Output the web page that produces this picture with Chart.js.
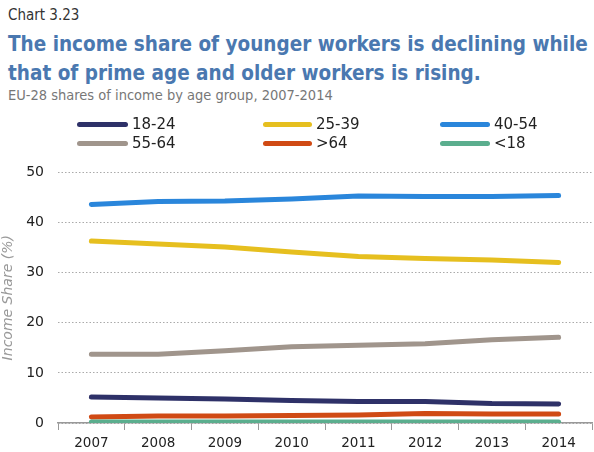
<!DOCTYPE html>
<html><head><meta charset="utf-8">
<script src="https://cdn.jsdelivr.net/npm/chart.js@4"></script>
<style>
html,body{margin:0;padding:0;background:#fff;}
body{width:594px;height:452px;position:relative;overflow:hidden;font-family:"DejaVu Sans Condensed","DejaVu Sans",sans-serif;}
#kicker{position:absolute;left:8px;top:6px;font-size:15px;color:#333;}
#title{position:absolute;left:8px;top:30px;font-size:20.5px;font-weight:bold;color:#4a78b0;line-height:29px;white-space:nowrap;}
#sub{position:absolute;left:8px;top:87px;font-size:14.5px;color:#777;}
#legend{position:absolute;left:0;top:114px;width:594px;height:36px;}
.li{position:absolute;font-family:"DejaVu Sans",sans-serif;font-size:15px;color:#222;height:19px;line-height:19px;}
.li span.sw{position:absolute;top:7px;height:5px;border-radius:3px;}
#wrap{position:absolute;left:0;top:150px;width:594px;height:302px;}
</style></head>
<body>
<div id="kicker">Chart 3.23</div>
<div id="title">The income share of younger workers is declining while<br>that of prime age and older workers is rising.</div>
<div id="sub">EU-28 shares of income by age group, 2007-2014</div>
<div id="wrap"><canvas id="c" width="594" height="302"></canvas></div>
<div id="legend"></div>
<script>
const years = ["2007","2008","2009","2010","2011","2012","2013","2014"];
const seriesNames = ["18-24","25-39","40-54","55-64",">64","<18"];
const s18_24 = [5.2,5.0,4.8,4.5,4.3,4.3,3.9,3.8];
const s25_39 = [36.3,35.7,35.1,34.1,33.2,32.8,32.5,32.0];
const s40_54 = [43.6,44.2,44.3,44.7,45.3,45.2,45.2,45.4];
const s55_64 = [13.7,13.7,14.4,15.2,15.5,15.8,16.6,17.1];
const s64plus = [1.2,1.4,1.4,1.5,1.6,1.9,1.8,1.8];
const sUnder18 = [0.2,0.2,0.2,0.2,0.2,0.2,0.2,0.2];
const yTicks = [0,10,20,30,40,50];

const colors = ["#2e3168","#e6bf1f","#2a86db","#a0958c","#d04a14","#5bae8e"];
const allData = [s18_24,s25_39,s40_54,s55_64,s64plus,sUnder18];

// legend
const legPos = [[77,124,51],[263,124,49],[440,124,50],[77,143,51],[263,143,49],[440,143,50]];
const leg = document.getElementById('legend');
seriesNames.forEach((n,i)=>{
  const d=document.createElement('div');d.className='li';
  d.style.left=legPos[i][0]+'px';d.style.top=(legPos[i][1]-114-9)+'px';
  d.style.paddingLeft=(legPos[i][2]+4)+'px';
  d.innerHTML='<span class="sw" style="left:0;width:'+legPos[i][2]+'px;background:'+colors[i]+'"></span>'+n.replace('<','&lt;').replace('>','&gt;');
  leg.appendChild(d);
});

const datasets = seriesNames.map((n,i)=>({
  label:n,data:allData[i],borderColor:colors[i],backgroundColor:colors[i],
  borderWidth:5,pointRadius:0,tension:0,fill:false,borderCapStyle:'round',borderJoinStyle:'round'
}));

new Chart(document.getElementById('c'),{
  type:'line',
  data:{labels:years,datasets:datasets.slice().reverse()},
  options:{
    responsive:false,animation:false,
    layout:{padding:{top:11,right:2,left:0,bottom:0}},
    plugins:{legend:{display:false},tooltip:{enabled:false}},
    scales:{
      x:{
        offset:true,
        grid:{display:true,drawOnChartArea:false,drawTicks:true,tickLength:7,color:'#999',offset:true},
        border:{display:true,color:'#999',width:1.5},
        ticks:{color:'#222',font:{family:'"DejaVu Sans",sans-serif',size:13.5},padding:5,maxRotation:0},
        afterFit:(s)=>{s.height=29;}
      },
      y:{
        min:0,max:50,
        afterBuildTicks:(s)=>{s.ticks=yTicks.map(v=>({value:v}));},
        grid:{color:'#aaa',lineWidth:1,drawTicks:false},
        border:{display:false,dash:[1.5,2]},
        ticks:{color:'#222',font:{family:'"DejaVu Sans",sans-serif',size:14},padding:14},
        title:{display:true,text:'Income Share (%)',color:'#999',font:{family:'"DejaVu Sans",sans-serif',size:14,style:'italic'},padding:{top:0,bottom:2}},
        afterFit:(s)=>{s.width=58;}
      }
    }
  }
});
</script>
</body></html>
